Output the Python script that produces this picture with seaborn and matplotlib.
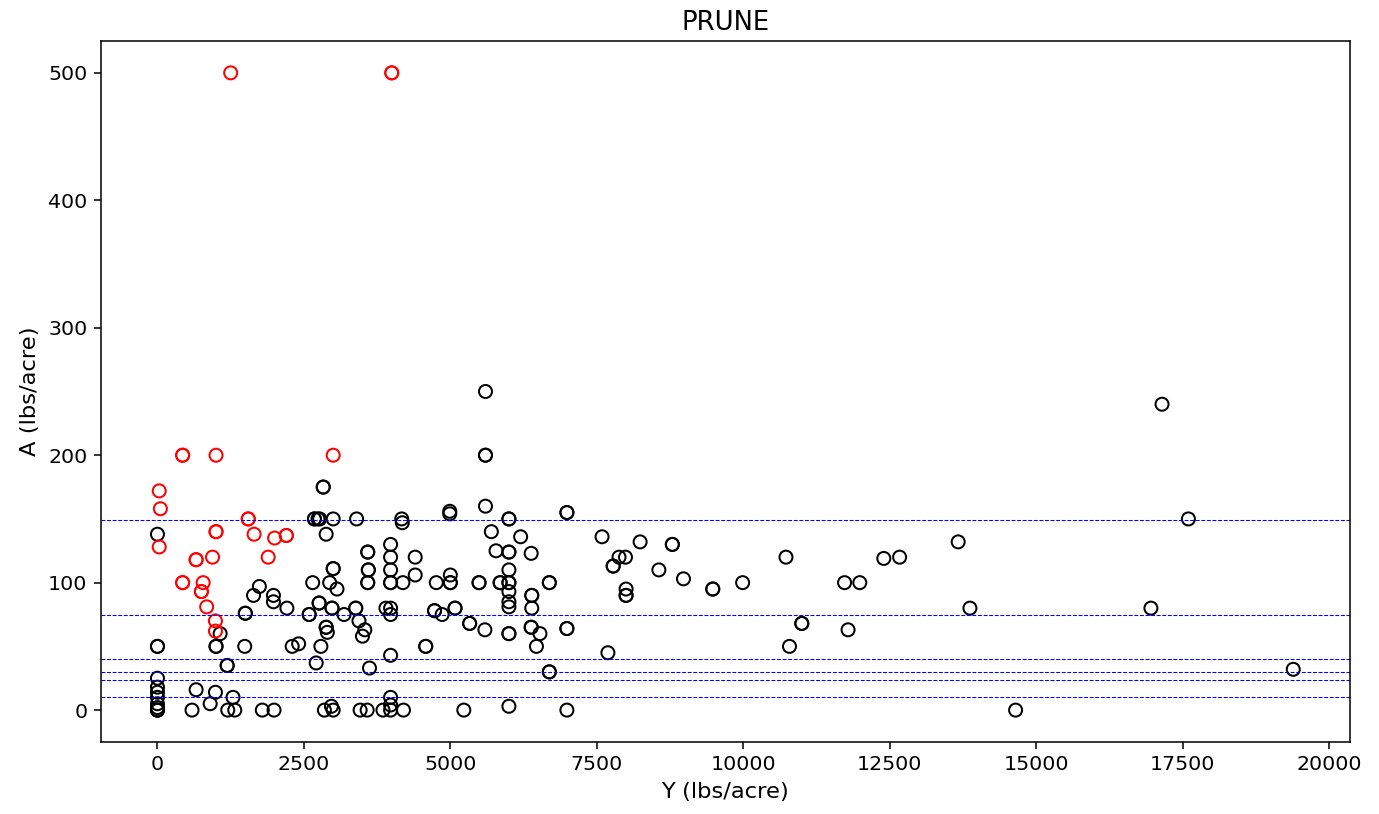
import numpy as np
import pandas as pd
import matplotlib
matplotlib.use("Agg")
import matplotlib.pyplot as plt
import seaborn as sns


# -------------------------------
# Data
# -------------------------------
# flagged points (drawn in red)
red_x = [1250, 4000, 4000, 430, 430, 1000, 3000, 30, 50, 1550, 1550, 30,
         1000, 1000, 1650, 2000, 2200, 2200, 660, 660, 940, 1890, 430, 430,
         780, 750, 750, 840, 990, 990]
red_y = [500, 500, 500, 200, 200, 200, 200, 172, 158, 150, 150, 128,
         140, 140, 138, 135, 137, 137, 118, 118, 120, 120, 100, 100,
         100, 93, 93, 81, 70, 62]

# all other points (drawn in black)
black_x = [
    0, 0, 0, 0, 0, 0, 0, 0, 0, 0, 0, 0,
    590, 660, 900, 990, 1000, 1000, 1070, 1190, 1190, 1200, 1290, 1320, 1490, 1500, 1500,
    1640, 1740, 1790, 1980, 1980, 1990, 2210, 2300, 2410,
    2590, 2590, 2650, 2680, 2680, 2740, 2770, 2710, 2760, 2760, 2790, 2830, 2830, 2880,
    2880, 2880, 2900, 2850, 2940, 2980, 2980, 3000, 3000, 3000, 2970, 3000, 3065, 3185,
    3385, 3385, 3400, 3440, 3460,
    3500, 3540, 3580, 3590, 3590, 3600, 3600, 3590, 3590, 3620, 3850, 3900, 3980, 3980,
    3980, 3980, 3980, 3980, 3980, 3980, 3980, 3980, 3980, 4170, 4180, 4190, 4200, 4400, 4400,
    4580, 4580, 4730, 4730, 4760, 4860, 4990, 4990, 5000, 5000, 5000, 5080, 5080, 5230,
    5330, 5330, 5490, 5490,
    5600, 5600, 5600, 5600, 5590, 5700, 5780, 5850, 5850, 6000, 6000, 6000, 6000, 6000,
    6000, 6000, 6000, 6000, 6000, 6000, 6000, 6000, 6200, 6380, 6390, 6390, 6390, 6380,
    6380, 6470, 6530, 6690, 6690, 6690, 6690, 6990, 6990, 6990, 6990, 6990,
    7590, 7690, 7780, 7780, 7880, 7990, 8000, 8000, 8000, 8240, 8790, 8790, 8560, 8980,
    9480, 9480, 9990, 10730, 10790, 11000, 11000, 11730, 11790, 11990, 12400, 12670,
    13670, 13870, 14650, 16960, 17150, 17600, 19390,
]
black_y = [
    138, 50, 50, 25, 18, 14, 10, 5, 2, 0, 0, 0,
    0, 16, 5, 14, 50, 50, 60, 35, 35, 0, 10, 0, 50, 76, 76,
    90, 97, 0, 90, 85, 0, 80, 50, 52,
    75, 75, 100, 150, 150, 150, 150, 37, 84, 84, 50, 175, 175, 138,
    65, 65, 61, 0, 100, 80, 80, 111, 111, 150, 3, 0, 95, 75,
    80, 80, 150, 70, 0,
    58, 63, 0, 124, 124, 110, 110, 100, 100, 33, 0, 80, 130, 120,
    110, 100, 100, 80, 75, 43, 10, 4, 0, 150, 147, 100, 0, 120, 106,
    50, 50, 78, 78, 100, 75, 156, 154, 106, 100, 100, 80, 80, 0,
    68, 68, 100, 100,
    250, 200, 200, 160, 63, 140, 125, 100, 100, 150, 150, 124, 124, 110,
    100, 100, 93, 85, 81, 60, 60, 3, 136, 123, 90, 90, 80, 65,
    65, 50, 60, 100, 100, 30, 30, 155, 155, 64, 64, 0,
    136, 45, 113, 113, 120, 120, 95, 90, 90, 132, 130, 130, 110, 103,
    95, 95, 100, 120, 50, 68, 68, 100, 63, 100, 119, 120,
    132, 80, 0, 80, 240, 150, 32,
]

# horizontal reference levels
levels = [149, 75, 40, 30, 24, 10]

black = pd.DataFrame({"Y": black_x, "A": black_y})
red = pd.DataFrame({"Y": red_x, "A": red_y})


# -------------------------------
# Plot
# -------------------------------
plt.rcParams["xtick.labelsize"] = 10.7
plt.rcParams["ytick.labelsize"] = 10.7

fig, ax = plt.subplots(figsize=(10, 5.903))
fig.subplots_adjust(left=0.073, right=0.979, bottom=0.0885, top=0.9496)

sns.scatterplot(data=black, x="Y", y="A", ax=ax, marker="o", s=46,
                facecolor="none", edgecolor="black", linewidth=1.05)
sns.scatterplot(data=red, x="Y", y="A", ax=ax, marker="o", s=46,
                facecolor="none", edgecolor="red", linewidth=1.05)

for lv in levels:
    ax.axhline(lv, color="blue", linestyle="--", linewidth=0.55)

ax.set_title("PRUNE", fontsize=13.5)
ax.set_xlabel("Y (lbs/acre)", fontsize=11.8)
ax.set_ylabel("A (lbs/acre)", fontsize=11.8)

fig.savefig("out.png", dpi=137.9)
